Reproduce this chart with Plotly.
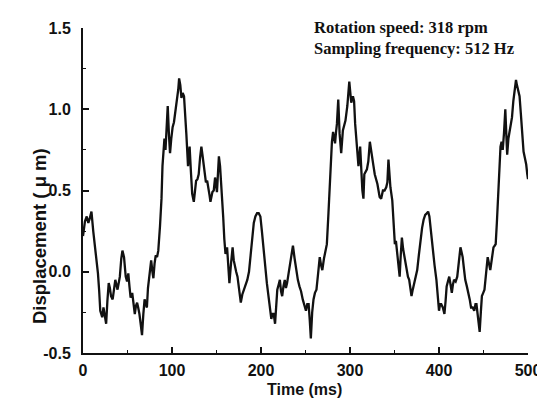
import plotly.graph_objects as go

# Time (ms) and displacement (µm)
time_ms = [
    0.0, 2.2, 4.2, 6.0, 7.7, 9.5, 11.5, 13.2, 15.0, 16.8, 18.2, 19.4, 21.6, 23.0, 24.2, 26.0,
    27.4, 28.9, 30.2, 31.5, 33.3, 34.8, 36.3, 38.8, 40.0, 41.4, 43.0, 44.3, 46.1, 47.0, 48.0,
    49.5, 50.9, 52.2, 53.5, 55.3, 56.8, 58.2, 59.5, 60.8, 62.0, 63.4, 65.0, 66.3, 67.8, 69.2,
    70.5, 71.8, 73.0, 74.4, 75.5, 76.6, 78.0, 79.1, 80.4, 81.7, 83.2, 84.6, 86.5, 88.2, 89.3,
    90.5, 91.5, 92.7, 94.0, 95.2, 96.5, 97.8, 99.2, 100.7, 102.2, 103.6, 105.8, 107.0, 108.0,
    109.3, 110.6, 112.0, 113.5, 114.8, 116.1, 118.0, 119.8, 121.2, 122.7, 124.5, 125.8, 127.1,
    128.6, 130.0, 131.5, 133.0, 134.2, 135.5, 136.8, 138.1, 139.5, 141.0, 142.2, 143.2, 144.3,
    145.4, 146.9, 148.4, 150.5, 151.6, 152.7, 154.0, 154.9, 156.2, 157.5, 158.8, 160.1, 161.9,
    163.2, 164.5, 166.3, 168.1, 169.4, 170.7, 172.1, 173.6, 175.5, 177.3, 179.0, 181.0, 182.8,
    184.6, 186.5, 188.3, 190.1, 191.9, 193.7, 195.6, 197.4, 199.3, 201.0, 202.9, 204.7, 206.6,
    208.4, 210.3, 211.6, 212.8, 214.3, 215.8, 217.0, 218.3, 219.8, 221.2, 222.5, 223.8, 225.2,
    226.7, 228.0, 229.3, 231.0, 232.9, 234.5, 235.9, 237.8, 239.6, 241.4, 243.2, 245.0, 246.9,
    248.7, 250.5, 252.0, 253.5, 254.8, 256.0, 257.5, 259.0, 260.6, 262.3, 264.0, 266.0, 267.5,
    268.9, 270.7, 272.5, 274.0, 275.8, 277.0, 278.4, 279.7, 281.0, 282.2, 283.2, 284.3, 285.3,
    286.8, 288.3, 290.1, 292.0, 294.9, 297.0, 299.2, 300.3, 301.4, 303.3, 304.6, 305.8, 307.7,
    309.5, 311.4, 312.6, 313.9, 315.1, 316.1, 319.0, 320.6, 322.3, 323.6, 324.9, 326.4, 327.8,
    329.2, 330.8, 333.3, 335.0, 337.0, 338.8, 340.7, 342.0, 343.2, 344.5, 345.4, 347.5, 349.0,
    350.4, 351.6, 352.9, 354.3, 355.8, 357.0, 358.3, 359.7, 361.2, 362.5, 363.7, 365.1, 366.5,
    367.8, 369.1, 370.5, 371.9, 373.7, 375.5, 377.3, 379.1, 381.0, 382.7, 384.5, 386.3, 387.8,
    389.2, 391.0, 392.8, 395.0, 397.1, 398.6, 400.0, 401.2, 402.5, 404.3, 406.1, 407.4, 408.6,
    410.0, 411.5, 413.0, 414.4, 415.6, 416.9, 418.7, 420.5, 422.3, 424.1, 425.4, 426.6, 428.0,
    429.5, 431.3, 433.1, 434.5, 436.0, 437.8, 439.6, 441.0, 442.1, 444.0, 445.7, 447.0, 448.2,
    449.7, 451.1, 452.9, 454.7, 456.2, 457.6, 459.4, 461.2, 462.5, 463.7, 465.0, 466.2, 467.5,
    469.1, 470.3, 471.6, 473.0, 474.5, 475.6, 476.6, 478.0, 479.5, 480.5, 482.0, 483.5, 485.0,
    486.5, 487.5, 489.0, 490.5, 492.0, 493.5, 495.0, 496.5, 498.0, 499.2, 500.0,
]
displacement_um = [
    0.22, 0.31, 0.34, 0.30, 0.33, 0.37, 0.25, 0.17, 0.08, -0.01, -0.12, -0.24, -0.28, -0.22, -0.26, -0.32,
    -0.18, -0.07, -0.10, -0.15, -0.17, -0.09, -0.05, -0.11, -0.06, -0.03, 0.08, 0.13, 0.09, 0.00, -0.03,
    -0.06, -0.01, -0.09, -0.16, -0.13, -0.19, -0.26, -0.21, -0.19, -0.22, -0.26, -0.33, -0.39, -0.26, -0.17,
    -0.20, -0.22, -0.10, -0.03, 0.04, 0.07, 0.00, -0.04, 0.05, 0.10, 0.09, 0.13, 0.28, 0.45, 0.65,
    0.79, 0.82, 0.75, 0.88, 1.02, 0.85, 0.73, 0.82, 0.89, 0.92, 0.97, 1.06, 1.12, 1.19,
    1.15, 1.07, 1.10, 1.08, 0.98, 0.85, 0.65, 0.77, 0.62, 0.48, 0.43, 0.50, 0.56,
    0.57, 0.60, 0.70, 0.77, 0.72, 0.67, 0.63, 0.55, 0.56, 0.52, 0.47, 0.43, 0.47,
    0.49, 0.50, 0.58, 0.49, 0.60, 0.71, 0.65, 0.58, 0.45, 0.34, 0.20, 0.11, 0.15,
    0.04, -0.07, 0.05, 0.15, 0.07, 0.03, 0.00, -0.03, -0.12, -0.19, -0.14, -0.11, -0.08,
    -0.05, 0.00, 0.09, 0.18, 0.30, 0.34, 0.36, 0.36, 0.34, 0.25, 0.13, 0.03, -0.07,
    -0.15, -0.24, -0.29, -0.26, -0.26, -0.32, -0.20, -0.11, -0.08, -0.05, -0.12, -0.15, -0.09,
    -0.05, -0.10, -0.07, -0.01, 0.05, 0.12, 0.16, 0.08, 0.01, -0.05, -0.09, -0.12, -0.17,
    -0.21, -0.24, -0.20, -0.20, -0.30, -0.41, -0.25, -0.17, -0.13, -0.11, -0.02, 0.09, 0.04,
    0.01, 0.08, 0.13, 0.17, 0.36, 0.50, 0.71, 0.80, 0.86, 0.81, 0.79, 0.86, 0.91,
    1.06, 0.85, 0.73, 0.87, 0.93, 1.02, 1.17, 1.12, 1.04, 1.08, 1.05, 0.91, 0.77,
    0.65, 0.77, 0.62, 0.50, 0.45, 0.60, 0.63, 0.68, 0.80, 0.76, 0.71, 0.65, 0.60,
    0.57, 0.54, 0.46, 0.45, 0.50, 0.50, 0.52, 0.55, 0.69, 0.60, 0.52, 0.44, 0.30,
    0.17, 0.19, 0.13, 0.05, -0.03, 0.10, 0.21, 0.14, 0.09, 0.03, -0.01, -0.03, -0.05,
    -0.10, -0.15, -0.11, -0.07, -0.03, 0.01, 0.10, 0.20, 0.27, 0.32, 0.35, 0.36, 0.37,
    0.34, 0.24, 0.13, 0.04, -0.05, -0.15, -0.24, -0.20, -0.20, -0.22, -0.26, -0.18, -0.09,
    -0.06, -0.03, -0.08, -0.13, -0.08, -0.05, -0.06, -0.03, 0.06, 0.15, 0.12, 0.09, 0.02,
    -0.05, -0.09, -0.13, -0.17, -0.22, -0.22, -0.24, -0.20, -0.20, -0.28, -0.37, -0.25, -0.15,
    -0.13, -0.11, -0.01, 0.09, 0.05, 0.01, 0.08, 0.15, 0.16, 0.17, 0.30, 0.42, 0.55,
    0.77, 0.80, 0.75, 0.85, 1.00, 0.85, 0.72, 0.82, 0.88, 0.92, 0.95, 1.05, 1.12,
    1.18, 1.15, 1.11, 1.08, 0.97, 0.85, 0.74, 0.70, 0.66, 0.60, 0.57,
]

x_ticks = [0, 100, 200, 300, 400, 500]
y_ticks = [-0.5, 0.0, 0.5, 1.0, 1.5]
y_tick_labels = ["-0.5", "0.0", "0.5", "1.0", "1.5"]
note_lines = ["Rotation speed: 318 rpm", "Sampling frequency: 512 Hz"]

W, H = 545, 398
L, R, T, B = 75, 14, 20, 53
pw, ph = W - L - R, H - T - B


def px(xp):
    return (xp - L) / pw


def py(yp):
    return (H - B - yp) / ph


sans = "Liberation Sans, Arial, sans-serif"
serif = "Liberation Serif, Times New Roman, serif"

fig = go.Figure()
fig.add_trace(go.Scatter(
    x=time_ms, y=displacement_um, mode="lines",
    line=dict(color="#111111", width=2.3),
    showlegend=False, hoverinfo="skip",
))

axis_common = dict(
    showline=True, linecolor="#111111", linewidth=2,
    ticks="inside", ticklen=6, tickwidth=1.5, tickcolor="#111111",
    showgrid=False, zeroline=False, mirror=False,
    tickfont=dict(family=sans, size=16, color="#111111", weight="bold"),
)

fig.update_xaxes(
    range=[0, 500], tickvals=x_ticks, ticktext=[str(v) for v in x_ticks],
    minor=dict(dtick=50, ticks="inside", ticklen=3, tickwidth=1.2, tickcolor="#111111"),
    ticklabelstandoff=2,
    **axis_common,
)
fig.update_yaxes(
    range=[-0.5, 1.5], tickvals=y_ticks, ticktext=y_tick_labels,
    minor=dict(dtick=0.25, tick0=0, ticks="inside", ticklen=3, tickwidth=1.2, tickcolor="#111111"),
    ticklabelstandoff=7,
    **axis_common,
)

annotations = [
    dict(text="Time (ms)", x=px(302), y=py(381), xref="paper", yref="paper",
         xanchor="center", yanchor="middle", showarrow=False, borderpad=0,
         font=dict(family=sans, size=16, color="#111111", weight="bold")),
    dict(text="Displacement ( μ m)", x=px(30), y=py(228), xref="paper", yref="paper",
         xanchor="center", yanchor="middle", textangle=-90, showarrow=False,
         font=dict(family=sans, size=18.5, color="#111111", weight="bold")),
    dict(text="<br>".join(note_lines), x=px(310), y=py(29.5), xref="paper", yref="paper",
         xanchor="left", yanchor="middle", align="left", showarrow=False,
         font=dict(family=serif, size=16.5, color="#111111", weight="bold")),
]

fig.update_layout(
    width=W, height=H,
    margin=dict(l=L, r=R, t=T, b=B, pad=0),
    paper_bgcolor="white", plot_bgcolor="white",
    annotations=annotations,
)

fig.write_html("out.html")
